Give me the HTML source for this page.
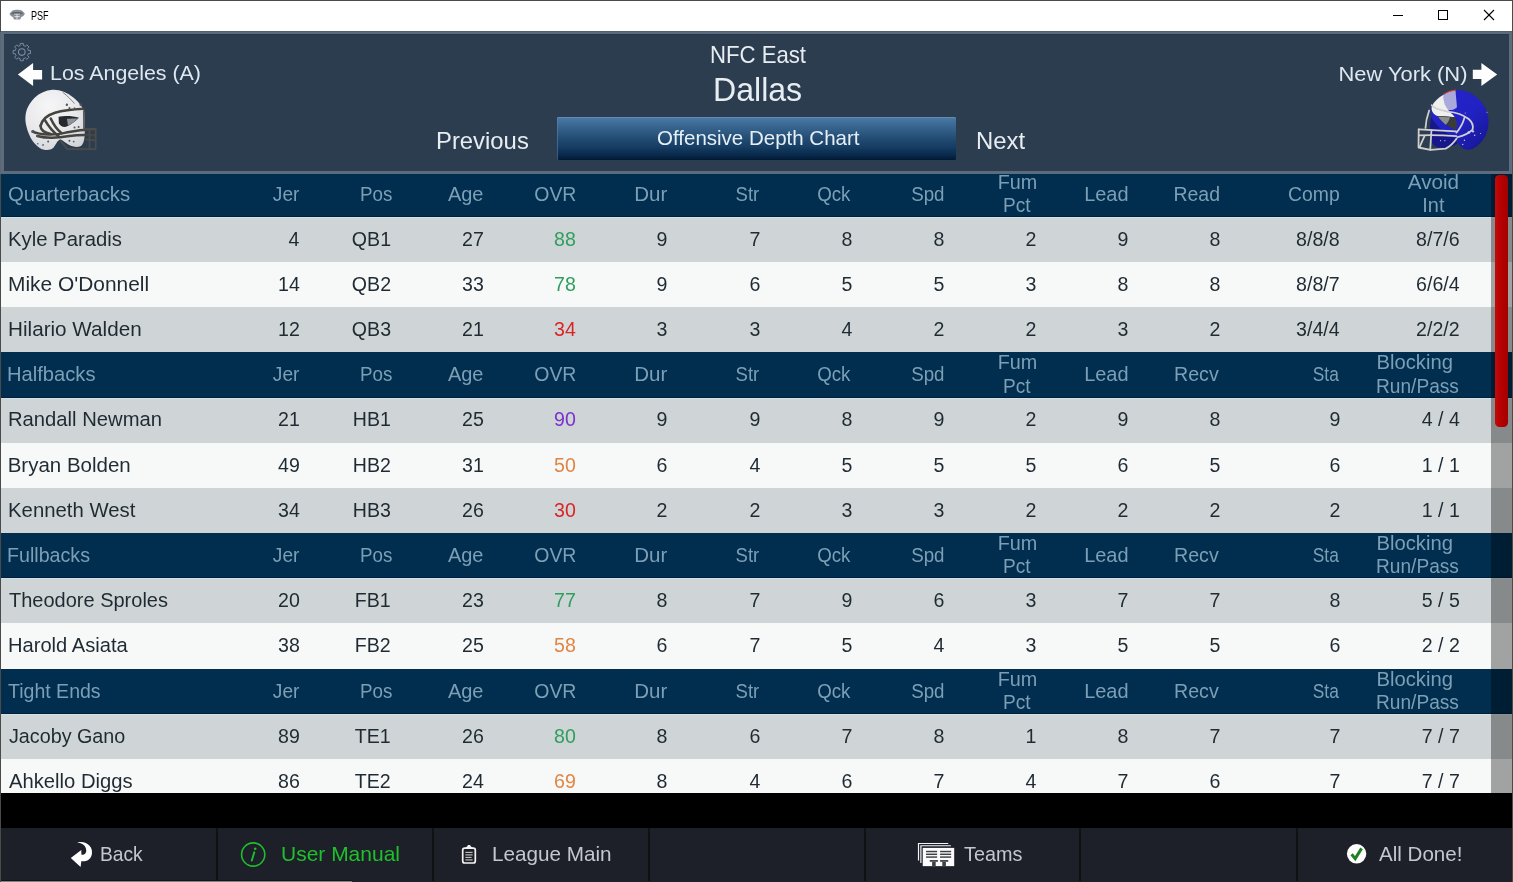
<!DOCTYPE html>
<html><head><meta charset="utf-8"><title>PSF</title>
<style>
html,body{margin:0;padding:0;}
body{width:1513px;height:882px;position:relative;overflow:hidden;background:#000;font-family:"Liberation Sans", sans-serif;}
.t{position:absolute;white-space:pre;line-height:1;font-family:"Liberation Sans", sans-serif;}
.abs{position:absolute;}
.tl{position:absolute;left:0;top:0;width:1513px;height:882px;will-change:transform;}
#titlebar{position:absolute;left:0;top:0;width:1513px;height:31px;background:#fff;}
#list{position:absolute;left:1px;top:0;width:1511px;height:793px;overflow:hidden;}
#list .inner{position:absolute;left:-1px;top:0;width:1513px;height:900px;}
.row{position:absolute;left:0;width:1513px;}
.row.hdr{background:#012e4f;}
.row.g{background:#cfd5d6;}
.row.w{background:#f7f9f9;}
#panel{position:absolute;left:1px;top:31px;width:1511px;height:143px;box-sizing:border-box;border:3px solid #5c6c7f;background:#2c3d4f;box-shadow:inset 0 1px 0 #27364a;}
#btn{position:absolute;left:557px;top:117px;width:399px;height:43px;border-radius:1.5px;box-shadow:inset 1px 0 0 rgba(90,135,175,.55), inset 0 1px 0 rgba(110,150,185,.6);background:linear-gradient(#4d7ca6 0%,#41719c 10%,#265078 45%,#163d63 70%,#072849 90%,#011733 100%);}
#track{position:absolute;left:1491px;top:174px;width:21px;height:619px;background:rgba(0,0,0,.35);}
#thumb{position:absolute;left:1494.5px;top:175px;width:13.6px;height:252px;border-radius:4.5px;background:linear-gradient(90deg,#c20a0a,#b40000 50%,#a20000);}
#bar{position:absolute;left:0;top:828px;width:1513px;height:54px;background:#1d2029;}
.div{position:absolute;top:828px;width:2px;height:54px;background:#0f1115;}
#frameL,#frameR{position:absolute;top:0;width:1px;height:882px;background:#4a4a4a;}
#frameT,#frameB{position:absolute;left:0;height:1px;width:1513px;background:#4a4a4a;}
</style></head>
<body>
<div id="list"><div class="inner">
<div class="row hdr" style="top:172px;height:45px"></div>
<div class="row g" style="top:217px;height:45px"></div>
<div class="row w" style="top:262px;height:45px"></div>
<div class="row g" style="top:307px;height:45px"></div>
<div class="row hdr" style="top:352px;height:46px"></div>
<div class="row g" style="top:398px;height:45px"></div>
<div class="row w" style="top:443px;height:45px"></div>
<div class="row g" style="top:488px;height:45px"></div>
<div class="row hdr" style="top:533px;height:45px"></div>
<div class="row g" style="top:578px;height:45px"></div>
<div class="row w" style="top:623px;height:46px"></div>
<div class="row hdr" style="top:669px;height:45px"></div>
<div class="row g" style="top:714px;height:45px"></div>
<div class="row w" style="top:759px;height:45px"></div>
<div class="abs" style="left:0;top:216px;width:1513px;height:1px;background:#00203a"></div>
<div class="abs" style="left:0;top:217px;width:1513px;height:1px;background:#cfe2ec"></div>
<div class="abs" style="left:0;top:397px;width:1513px;height:1px;background:#00203a"></div>
<div class="abs" style="left:0;top:398px;width:1513px;height:1px;background:#cfe2ec"></div>
<div class="abs" style="left:0;top:577px;width:1513px;height:1px;background:#00203a"></div>
<div class="abs" style="left:0;top:578px;width:1513px;height:1px;background:#cfe2ec"></div>
<div class="abs" style="left:0;top:713px;width:1513px;height:1px;background:#00203a"></div>
<div class="abs" style="left:0;top:714px;width:1513px;height:1px;background:#cfe2ec"></div>
<div class="tl">
<span class="t" style="top:183.54px;font-size:20.5px;color:#7c9fb6;left:8.30px;transform-origin:0 0;transform:scaleX(0.9927);">Quarterbacks</span>
<span class="t" style="top:183.54px;font-size:20.5px;color:#7c9fb6;right:1213.66px;transform-origin:100% 0;transform:scaleX(0.9354);">Jer</span>
<span class="t" style="top:183.54px;font-size:20.5px;color:#7c9fb6;right:1121.17px;transform-origin:100% 0;transform:scaleX(0.9156);">Pos</span>
<span class="t" style="top:183.54px;font-size:20.5px;color:#7c9fb6;right:1029.21px;transform-origin:100% 0;transform:scaleX(0.9758);">Age</span>
<span class="t" style="top:183.54px;font-size:20.5px;color:#7c9fb6;right:936.74px;transform-origin:100% 0;transform:scaleX(0.9491);">OVR</span>
<span class="t" style="top:183.54px;font-size:20.5px;color:#7c9fb6;right:845.67px;transform-origin:100% 0;">Dur</span>
<span class="t" style="top:183.54px;font-size:20.5px;color:#7c9fb6;right:753.56px;transform-origin:100% 0;transform:scaleX(0.9026);">Str</span>
<span class="t" style="top:183.54px;font-size:20.5px;color:#7c9fb6;right:662.09px;transform-origin:100% 0;transform:scaleX(0.9141);">Qck</span>
<span class="t" style="top:183.54px;font-size:20.5px;color:#7c9fb6;right:568.83px;transform-origin:100% 0;transform:scaleX(0.9120);">Spd</span>
<span class="t" style="top:171.54px;font-size:20.5px;color:#7c9fb6;left:996.74px;transform-origin:50% 0;transform:scaleX(0.9660);">Fum</span>
<span class="t" style="top:194.94px;font-size:20.5px;color:#7c9fb6;left:1001.78px;transform-origin:50% 0;transform:scaleX(0.9300);">Pct</span>
<span class="t" style="top:183.54px;font-size:20.5px;color:#7c9fb6;right:384.81px;transform-origin:100% 0;transform:scaleX(0.9750);">Lead</span>
<span class="t" style="top:183.54px;font-size:20.5px;color:#7c9fb6;right:292.82px;transform-origin:100% 0;transform:scaleX(0.9515);">Read</span>
<span class="t" style="top:183.54px;font-size:20.5px;color:#7c9fb6;right:173.02px;transform-origin:100% 0;transform:scaleX(0.9440);">Comp</span>
<span class="t" style="top:171.54px;font-size:20.5px;color:#7c9fb6;left:1408.45px;transform-origin:50% 0;transform:scaleX(1.0078);">Avoid</span>
<span class="t" style="top:194.94px;font-size:20.5px;color:#7c9fb6;left:1421.67px;transform-origin:50% 0;transform:scaleX(0.9730);">Int</span>
<span class="t" style="top:228.62px;font-size:20.5px;color:#1f2a32;left:7.71px;transform-origin:0 0;transform:scaleX(0.9901);">Kyle Paradis</span>
<span class="t" style="top:228.62px;font-size:20.5px;color:#1f2a32;right:1213.12px;transform-origin:100% 0;transform:scaleX(0.9550);">4</span>
<span class="t" style="top:228.62px;font-size:20.5px;color:#1f2a32;right:1122.32px;transform-origin:100% 0;transform:scaleX(0.9550);">QB1</span>
<span class="t" style="top:228.62px;font-size:20.5px;color:#1f2a32;right:1029.22px;transform-origin:100% 0;transform:scaleX(0.9550);">27</span>
<span class="t" style="top:228.62px;font-size:20.5px;color:#2f9e5e;right:937.12px;transform-origin:100% 0;transform:scaleX(0.9550);">88</span>
<span class="t" style="top:228.62px;font-size:20.5px;color:#1f2a32;right:845.12px;transform-origin:100% 0;transform:scaleX(0.9550);">9</span>
<span class="t" style="top:228.62px;font-size:20.5px;color:#1f2a32;right:753.02px;transform-origin:100% 0;transform:scaleX(0.9550);">7</span>
<span class="t" style="top:228.62px;font-size:20.5px;color:#1f2a32;right:661.02px;transform-origin:100% 0;transform:scaleX(0.9550);">8</span>
<span class="t" style="top:228.62px;font-size:20.5px;color:#1f2a32;right:568.82px;transform-origin:100% 0;transform:scaleX(0.9550);">8</span>
<span class="t" style="top:228.62px;font-size:20.5px;color:#1f2a32;right:476.82px;transform-origin:100% 0;transform:scaleX(0.9550);">2</span>
<span class="t" style="top:228.62px;font-size:20.5px;color:#1f2a32;right:384.82px;transform-origin:100% 0;transform:scaleX(0.9550);">9</span>
<span class="t" style="top:228.62px;font-size:20.5px;color:#1f2a32;right:292.82px;transform-origin:100% 0;transform:scaleX(0.9550);">8</span>
<span class="t" style="top:228.62px;font-size:20.5px;color:#1f2a32;right:173.02px;transform-origin:100% 0;transform:scaleX(0.9550);">8/8/8</span>
<span class="t" style="top:228.62px;font-size:20.5px;color:#1f2a32;right:53.32px;transform-origin:100% 0;transform:scaleX(0.9550);">8/7/6</span>
<span class="t" style="top:273.80px;font-size:20.5px;color:#1f2a32;left:7.68px;transform-origin:0 0;transform:scaleX(1.0197);">Mike O&#x27;Donnell</span>
<span class="t" style="top:273.80px;font-size:20.5px;color:#1f2a32;right:1213.12px;transform-origin:100% 0;transform:scaleX(0.9550);">14</span>
<span class="t" style="top:273.80px;font-size:20.5px;color:#1f2a32;right:1122.32px;transform-origin:100% 0;transform:scaleX(0.9550);">QB2</span>
<span class="t" style="top:273.80px;font-size:20.5px;color:#1f2a32;right:1029.22px;transform-origin:100% 0;transform:scaleX(0.9550);">33</span>
<span class="t" style="top:273.80px;font-size:20.5px;color:#2f9e5e;right:937.12px;transform-origin:100% 0;transform:scaleX(0.9550);">78</span>
<span class="t" style="top:273.80px;font-size:20.5px;color:#1f2a32;right:845.12px;transform-origin:100% 0;transform:scaleX(0.9550);">9</span>
<span class="t" style="top:273.80px;font-size:20.5px;color:#1f2a32;right:753.02px;transform-origin:100% 0;transform:scaleX(0.9550);">6</span>
<span class="t" style="top:273.80px;font-size:20.5px;color:#1f2a32;right:661.02px;transform-origin:100% 0;transform:scaleX(0.9550);">5</span>
<span class="t" style="top:273.80px;font-size:20.5px;color:#1f2a32;right:568.82px;transform-origin:100% 0;transform:scaleX(0.9550);">5</span>
<span class="t" style="top:273.80px;font-size:20.5px;color:#1f2a32;right:476.82px;transform-origin:100% 0;transform:scaleX(0.9550);">3</span>
<span class="t" style="top:273.80px;font-size:20.5px;color:#1f2a32;right:384.82px;transform-origin:100% 0;transform:scaleX(0.9550);">8</span>
<span class="t" style="top:273.80px;font-size:20.5px;color:#1f2a32;right:292.82px;transform-origin:100% 0;transform:scaleX(0.9550);">8</span>
<span class="t" style="top:273.80px;font-size:20.5px;color:#1f2a32;right:173.02px;transform-origin:100% 0;transform:scaleX(0.9550);">8/8/7</span>
<span class="t" style="top:273.80px;font-size:20.5px;color:#1f2a32;right:53.32px;transform-origin:100% 0;transform:scaleX(0.9550);">6/6/4</span>
<span class="t" style="top:318.98px;font-size:20.5px;color:#1f2a32;left:7.69px;transform-origin:0 0;transform:scaleX(1.0089);">Hilario Walden</span>
<span class="t" style="top:318.98px;font-size:20.5px;color:#1f2a32;right:1213.12px;transform-origin:100% 0;transform:scaleX(0.9550);">12</span>
<span class="t" style="top:318.98px;font-size:20.5px;color:#1f2a32;right:1122.32px;transform-origin:100% 0;transform:scaleX(0.9550);">QB3</span>
<span class="t" style="top:318.98px;font-size:20.5px;color:#1f2a32;right:1029.22px;transform-origin:100% 0;transform:scaleX(0.9550);">21</span>
<span class="t" style="top:318.98px;font-size:20.5px;color:#d92525;right:937.12px;transform-origin:100% 0;transform:scaleX(0.9550);">34</span>
<span class="t" style="top:318.98px;font-size:20.5px;color:#1f2a32;right:845.12px;transform-origin:100% 0;transform:scaleX(0.9550);">3</span>
<span class="t" style="top:318.98px;font-size:20.5px;color:#1f2a32;right:753.02px;transform-origin:100% 0;transform:scaleX(0.9550);">3</span>
<span class="t" style="top:318.98px;font-size:20.5px;color:#1f2a32;right:661.02px;transform-origin:100% 0;transform:scaleX(0.9550);">4</span>
<span class="t" style="top:318.98px;font-size:20.5px;color:#1f2a32;right:568.82px;transform-origin:100% 0;transform:scaleX(0.9550);">2</span>
<span class="t" style="top:318.98px;font-size:20.5px;color:#1f2a32;right:476.82px;transform-origin:100% 0;transform:scaleX(0.9550);">2</span>
<span class="t" style="top:318.98px;font-size:20.5px;color:#1f2a32;right:384.82px;transform-origin:100% 0;transform:scaleX(0.9550);">3</span>
<span class="t" style="top:318.98px;font-size:20.5px;color:#1f2a32;right:292.82px;transform-origin:100% 0;transform:scaleX(0.9550);">2</span>
<span class="t" style="top:318.98px;font-size:20.5px;color:#1f2a32;right:173.02px;transform-origin:100% 0;transform:scaleX(0.9550);">3/4/4</span>
<span class="t" style="top:318.98px;font-size:20.5px;color:#1f2a32;right:53.32px;transform-origin:100% 0;transform:scaleX(0.9550);">2/2/2</span>
<span class="t" style="top:364.26px;font-size:20.5px;color:#7c9fb6;left:7.32px;transform-origin:0 0;transform:scaleX(0.9836);">Halfbacks</span>
<span class="t" style="top:364.26px;font-size:20.5px;color:#7c9fb6;right:1213.66px;transform-origin:100% 0;transform:scaleX(0.9354);">Jer</span>
<span class="t" style="top:364.26px;font-size:20.5px;color:#7c9fb6;right:1121.17px;transform-origin:100% 0;transform:scaleX(0.9156);">Pos</span>
<span class="t" style="top:364.26px;font-size:20.5px;color:#7c9fb6;right:1029.21px;transform-origin:100% 0;transform:scaleX(0.9758);">Age</span>
<span class="t" style="top:364.26px;font-size:20.5px;color:#7c9fb6;right:936.74px;transform-origin:100% 0;transform:scaleX(0.9491);">OVR</span>
<span class="t" style="top:364.26px;font-size:20.5px;color:#7c9fb6;right:845.67px;transform-origin:100% 0;">Dur</span>
<span class="t" style="top:364.26px;font-size:20.5px;color:#7c9fb6;right:753.56px;transform-origin:100% 0;transform:scaleX(0.9026);">Str</span>
<span class="t" style="top:364.26px;font-size:20.5px;color:#7c9fb6;right:662.09px;transform-origin:100% 0;transform:scaleX(0.9141);">Qck</span>
<span class="t" style="top:364.26px;font-size:20.5px;color:#7c9fb6;right:568.83px;transform-origin:100% 0;transform:scaleX(0.9120);">Spd</span>
<span class="t" style="top:352.26px;font-size:20.5px;color:#7c9fb6;left:996.74px;transform-origin:50% 0;transform:scaleX(0.9660);">Fum</span>
<span class="t" style="top:375.66px;font-size:20.5px;color:#7c9fb6;left:1001.78px;transform-origin:50% 0;transform:scaleX(0.9300);">Pct</span>
<span class="t" style="top:364.26px;font-size:20.5px;color:#7c9fb6;right:384.81px;transform-origin:100% 0;transform:scaleX(0.9750);">Lead</span>
<span class="t" style="top:364.26px;font-size:20.5px;color:#7c9fb6;right:293.92px;transform-origin:100% 0;transform:scaleX(0.9579);">Recv</span>
<span class="t" style="top:364.26px;font-size:20.5px;color:#7c9fb6;right:173.91px;transform-origin:100% 0;transform:scaleX(0.8448);">Sta</span>
<span class="t" style="top:352.26px;font-size:20.5px;color:#7c9fb6;left:1375.76px;transform-origin:50% 0;transform:scaleX(0.9857);">Blocking</span>
<span class="t" style="top:375.66px;font-size:20.5px;color:#7c9fb6;left:1373.41px;transform-origin:50% 0;transform:scaleX(0.9335);">Run/Pass</span>
<span class="t" style="top:409.34px;font-size:20.5px;color:#1f2a32;left:7.71px;transform-origin:0 0;transform:scaleX(0.9864);">Randall Newman</span>
<span class="t" style="top:409.34px;font-size:20.5px;color:#1f2a32;right:1213.12px;transform-origin:100% 0;transform:scaleX(0.9550);">21</span>
<span class="t" style="top:409.34px;font-size:20.5px;color:#1f2a32;right:1122.32px;transform-origin:100% 0;transform:scaleX(0.9550);">HB1</span>
<span class="t" style="top:409.34px;font-size:20.5px;color:#1f2a32;right:1029.22px;transform-origin:100% 0;transform:scaleX(0.9550);">25</span>
<span class="t" style="top:409.34px;font-size:20.5px;color:#7a33cc;right:937.12px;transform-origin:100% 0;transform:scaleX(0.9550);">90</span>
<span class="t" style="top:409.34px;font-size:20.5px;color:#1f2a32;right:845.12px;transform-origin:100% 0;transform:scaleX(0.9550);">9</span>
<span class="t" style="top:409.34px;font-size:20.5px;color:#1f2a32;right:753.02px;transform-origin:100% 0;transform:scaleX(0.9550);">9</span>
<span class="t" style="top:409.34px;font-size:20.5px;color:#1f2a32;right:661.02px;transform-origin:100% 0;transform:scaleX(0.9550);">8</span>
<span class="t" style="top:409.34px;font-size:20.5px;color:#1f2a32;right:568.82px;transform-origin:100% 0;transform:scaleX(0.9550);">9</span>
<span class="t" style="top:409.34px;font-size:20.5px;color:#1f2a32;right:476.82px;transform-origin:100% 0;transform:scaleX(0.9550);">2</span>
<span class="t" style="top:409.34px;font-size:20.5px;color:#1f2a32;right:384.82px;transform-origin:100% 0;transform:scaleX(0.9550);">9</span>
<span class="t" style="top:409.34px;font-size:20.5px;color:#1f2a32;right:292.82px;transform-origin:100% 0;transform:scaleX(0.9550);">8</span>
<span class="t" style="top:409.34px;font-size:20.5px;color:#1f2a32;right:173.02px;transform-origin:100% 0;transform:scaleX(0.9550);">9</span>
<span class="t" style="top:409.34px;font-size:20.5px;color:#1f2a32;right:53.32px;transform-origin:100% 0;transform:scaleX(0.9550);">4 / 4</span>
<span class="t" style="top:454.52px;font-size:20.5px;color:#1f2a32;left:7.70px;transform-origin:0 0;">Bryan Bolden</span>
<span class="t" style="top:454.52px;font-size:20.5px;color:#1f2a32;right:1213.12px;transform-origin:100% 0;transform:scaleX(0.9550);">49</span>
<span class="t" style="top:454.52px;font-size:20.5px;color:#1f2a32;right:1122.32px;transform-origin:100% 0;transform:scaleX(0.9550);">HB2</span>
<span class="t" style="top:454.52px;font-size:20.5px;color:#1f2a32;right:1029.22px;transform-origin:100% 0;transform:scaleX(0.9550);">31</span>
<span class="t" style="top:454.52px;font-size:20.5px;color:#e08645;right:937.12px;transform-origin:100% 0;transform:scaleX(0.9550);">50</span>
<span class="t" style="top:454.52px;font-size:20.5px;color:#1f2a32;right:845.12px;transform-origin:100% 0;transform:scaleX(0.9550);">6</span>
<span class="t" style="top:454.52px;font-size:20.5px;color:#1f2a32;right:753.02px;transform-origin:100% 0;transform:scaleX(0.9550);">4</span>
<span class="t" style="top:454.52px;font-size:20.5px;color:#1f2a32;right:661.02px;transform-origin:100% 0;transform:scaleX(0.9550);">5</span>
<span class="t" style="top:454.52px;font-size:20.5px;color:#1f2a32;right:568.82px;transform-origin:100% 0;transform:scaleX(0.9550);">5</span>
<span class="t" style="top:454.52px;font-size:20.5px;color:#1f2a32;right:476.82px;transform-origin:100% 0;transform:scaleX(0.9550);">5</span>
<span class="t" style="top:454.52px;font-size:20.5px;color:#1f2a32;right:384.82px;transform-origin:100% 0;transform:scaleX(0.9550);">6</span>
<span class="t" style="top:454.52px;font-size:20.5px;color:#1f2a32;right:292.82px;transform-origin:100% 0;transform:scaleX(0.9550);">5</span>
<span class="t" style="top:454.52px;font-size:20.5px;color:#1f2a32;right:173.02px;transform-origin:100% 0;transform:scaleX(0.9550);">6</span>
<span class="t" style="top:454.52px;font-size:20.5px;color:#1f2a32;right:53.32px;transform-origin:100% 0;transform:scaleX(0.9550);">1 / 1</span>
<span class="t" style="top:499.70px;font-size:20.5px;color:#1f2a32;left:7.71px;transform-origin:0 0;transform:scaleX(0.9922);">Kenneth West</span>
<span class="t" style="top:499.70px;font-size:20.5px;color:#1f2a32;right:1213.12px;transform-origin:100% 0;transform:scaleX(0.9550);">34</span>
<span class="t" style="top:499.70px;font-size:20.5px;color:#1f2a32;right:1122.32px;transform-origin:100% 0;transform:scaleX(0.9550);">HB3</span>
<span class="t" style="top:499.70px;font-size:20.5px;color:#1f2a32;right:1029.22px;transform-origin:100% 0;transform:scaleX(0.9550);">26</span>
<span class="t" style="top:499.70px;font-size:20.5px;color:#d92525;right:937.12px;transform-origin:100% 0;transform:scaleX(0.9550);">30</span>
<span class="t" style="top:499.70px;font-size:20.5px;color:#1f2a32;right:845.12px;transform-origin:100% 0;transform:scaleX(0.9550);">2</span>
<span class="t" style="top:499.70px;font-size:20.5px;color:#1f2a32;right:753.02px;transform-origin:100% 0;transform:scaleX(0.9550);">2</span>
<span class="t" style="top:499.70px;font-size:20.5px;color:#1f2a32;right:661.02px;transform-origin:100% 0;transform:scaleX(0.9550);">3</span>
<span class="t" style="top:499.70px;font-size:20.5px;color:#1f2a32;right:568.82px;transform-origin:100% 0;transform:scaleX(0.9550);">3</span>
<span class="t" style="top:499.70px;font-size:20.5px;color:#1f2a32;right:476.82px;transform-origin:100% 0;transform:scaleX(0.9550);">2</span>
<span class="t" style="top:499.70px;font-size:20.5px;color:#1f2a32;right:384.82px;transform-origin:100% 0;transform:scaleX(0.9550);">2</span>
<span class="t" style="top:499.70px;font-size:20.5px;color:#1f2a32;right:292.82px;transform-origin:100% 0;transform:scaleX(0.9550);">2</span>
<span class="t" style="top:499.70px;font-size:20.5px;color:#1f2a32;right:173.02px;transform-origin:100% 0;transform:scaleX(0.9550);">2</span>
<span class="t" style="top:499.70px;font-size:20.5px;color:#1f2a32;right:53.32px;transform-origin:100% 0;transform:scaleX(0.9550);">1 / 1</span>
<span class="t" style="top:544.98px;font-size:20.5px;color:#7c9fb6;left:7.34px;transform-origin:0 0;transform:scaleX(0.9586);">Fullbacks</span>
<span class="t" style="top:544.98px;font-size:20.5px;color:#7c9fb6;right:1213.66px;transform-origin:100% 0;transform:scaleX(0.9354);">Jer</span>
<span class="t" style="top:544.98px;font-size:20.5px;color:#7c9fb6;right:1121.17px;transform-origin:100% 0;transform:scaleX(0.9156);">Pos</span>
<span class="t" style="top:544.98px;font-size:20.5px;color:#7c9fb6;right:1029.21px;transform-origin:100% 0;transform:scaleX(0.9758);">Age</span>
<span class="t" style="top:544.98px;font-size:20.5px;color:#7c9fb6;right:936.74px;transform-origin:100% 0;transform:scaleX(0.9491);">OVR</span>
<span class="t" style="top:544.98px;font-size:20.5px;color:#7c9fb6;right:845.67px;transform-origin:100% 0;">Dur</span>
<span class="t" style="top:544.98px;font-size:20.5px;color:#7c9fb6;right:753.56px;transform-origin:100% 0;transform:scaleX(0.9026);">Str</span>
<span class="t" style="top:544.98px;font-size:20.5px;color:#7c9fb6;right:662.09px;transform-origin:100% 0;transform:scaleX(0.9141);">Qck</span>
<span class="t" style="top:544.98px;font-size:20.5px;color:#7c9fb6;right:568.83px;transform-origin:100% 0;transform:scaleX(0.9120);">Spd</span>
<span class="t" style="top:532.98px;font-size:20.5px;color:#7c9fb6;left:996.74px;transform-origin:50% 0;transform:scaleX(0.9660);">Fum</span>
<span class="t" style="top:556.38px;font-size:20.5px;color:#7c9fb6;left:1001.78px;transform-origin:50% 0;transform:scaleX(0.9300);">Pct</span>
<span class="t" style="top:544.98px;font-size:20.5px;color:#7c9fb6;right:384.81px;transform-origin:100% 0;transform:scaleX(0.9750);">Lead</span>
<span class="t" style="top:544.98px;font-size:20.5px;color:#7c9fb6;right:293.92px;transform-origin:100% 0;transform:scaleX(0.9579);">Recv</span>
<span class="t" style="top:544.98px;font-size:20.5px;color:#7c9fb6;right:173.91px;transform-origin:100% 0;transform:scaleX(0.8448);">Sta</span>
<span class="t" style="top:532.98px;font-size:20.5px;color:#7c9fb6;left:1375.76px;transform-origin:50% 0;transform:scaleX(0.9857);">Blocking</span>
<span class="t" style="top:556.38px;font-size:20.5px;color:#7c9fb6;left:1373.41px;transform-origin:50% 0;transform:scaleX(0.9335);">Run/Pass</span>
<span class="t" style="top:590.06px;font-size:20.5px;color:#1f2a32;left:8.70px;transform-origin:0 0;transform:scaleX(0.9754);">Theodore Sproles</span>
<span class="t" style="top:590.06px;font-size:20.5px;color:#1f2a32;right:1213.12px;transform-origin:100% 0;transform:scaleX(0.9550);">20</span>
<span class="t" style="top:590.06px;font-size:20.5px;color:#1f2a32;right:1122.32px;transform-origin:100% 0;transform:scaleX(0.9550);">FB1</span>
<span class="t" style="top:590.06px;font-size:20.5px;color:#1f2a32;right:1029.22px;transform-origin:100% 0;transform:scaleX(0.9550);">23</span>
<span class="t" style="top:590.06px;font-size:20.5px;color:#2f9e5e;right:937.12px;transform-origin:100% 0;transform:scaleX(0.9550);">77</span>
<span class="t" style="top:590.06px;font-size:20.5px;color:#1f2a32;right:845.12px;transform-origin:100% 0;transform:scaleX(0.9550);">8</span>
<span class="t" style="top:590.06px;font-size:20.5px;color:#1f2a32;right:753.02px;transform-origin:100% 0;transform:scaleX(0.9550);">7</span>
<span class="t" style="top:590.06px;font-size:20.5px;color:#1f2a32;right:661.02px;transform-origin:100% 0;transform:scaleX(0.9550);">9</span>
<span class="t" style="top:590.06px;font-size:20.5px;color:#1f2a32;right:568.82px;transform-origin:100% 0;transform:scaleX(0.9550);">6</span>
<span class="t" style="top:590.06px;font-size:20.5px;color:#1f2a32;right:476.82px;transform-origin:100% 0;transform:scaleX(0.9550);">3</span>
<span class="t" style="top:590.06px;font-size:20.5px;color:#1f2a32;right:384.82px;transform-origin:100% 0;transform:scaleX(0.9550);">7</span>
<span class="t" style="top:590.06px;font-size:20.5px;color:#1f2a32;right:292.82px;transform-origin:100% 0;transform:scaleX(0.9550);">7</span>
<span class="t" style="top:590.06px;font-size:20.5px;color:#1f2a32;right:173.02px;transform-origin:100% 0;transform:scaleX(0.9550);">8</span>
<span class="t" style="top:590.06px;font-size:20.5px;color:#1f2a32;right:53.32px;transform-origin:100% 0;transform:scaleX(0.9550);">5 / 5</span>
<span class="t" style="top:635.24px;font-size:20.5px;color:#1f2a32;left:7.72px;transform-origin:0 0;transform:scaleX(0.9816);">Harold Asiata</span>
<span class="t" style="top:635.24px;font-size:20.5px;color:#1f2a32;right:1213.12px;transform-origin:100% 0;transform:scaleX(0.9550);">38</span>
<span class="t" style="top:635.24px;font-size:20.5px;color:#1f2a32;right:1122.32px;transform-origin:100% 0;transform:scaleX(0.9550);">FB2</span>
<span class="t" style="top:635.24px;font-size:20.5px;color:#1f2a32;right:1029.22px;transform-origin:100% 0;transform:scaleX(0.9550);">25</span>
<span class="t" style="top:635.24px;font-size:20.5px;color:#e08645;right:937.12px;transform-origin:100% 0;transform:scaleX(0.9550);">58</span>
<span class="t" style="top:635.24px;font-size:20.5px;color:#1f2a32;right:845.12px;transform-origin:100% 0;transform:scaleX(0.9550);">6</span>
<span class="t" style="top:635.24px;font-size:20.5px;color:#1f2a32;right:753.02px;transform-origin:100% 0;transform:scaleX(0.9550);">7</span>
<span class="t" style="top:635.24px;font-size:20.5px;color:#1f2a32;right:661.02px;transform-origin:100% 0;transform:scaleX(0.9550);">5</span>
<span class="t" style="top:635.24px;font-size:20.5px;color:#1f2a32;right:568.82px;transform-origin:100% 0;transform:scaleX(0.9550);">4</span>
<span class="t" style="top:635.24px;font-size:20.5px;color:#1f2a32;right:476.82px;transform-origin:100% 0;transform:scaleX(0.9550);">3</span>
<span class="t" style="top:635.24px;font-size:20.5px;color:#1f2a32;right:384.82px;transform-origin:100% 0;transform:scaleX(0.9550);">5</span>
<span class="t" style="top:635.24px;font-size:20.5px;color:#1f2a32;right:292.82px;transform-origin:100% 0;transform:scaleX(0.9550);">5</span>
<span class="t" style="top:635.24px;font-size:20.5px;color:#1f2a32;right:173.02px;transform-origin:100% 0;transform:scaleX(0.9550);">6</span>
<span class="t" style="top:635.24px;font-size:20.5px;color:#1f2a32;right:53.32px;transform-origin:100% 0;transform:scaleX(0.9550);">2 / 2</span>
<span class="t" style="top:680.52px;font-size:20.5px;color:#7c9fb6;left:8.30px;transform-origin:0 0;transform:scaleX(0.9527);">Tight Ends</span>
<span class="t" style="top:680.52px;font-size:20.5px;color:#7c9fb6;right:1213.66px;transform-origin:100% 0;transform:scaleX(0.9354);">Jer</span>
<span class="t" style="top:680.52px;font-size:20.5px;color:#7c9fb6;right:1121.17px;transform-origin:100% 0;transform:scaleX(0.9156);">Pos</span>
<span class="t" style="top:680.52px;font-size:20.5px;color:#7c9fb6;right:1029.21px;transform-origin:100% 0;transform:scaleX(0.9758);">Age</span>
<span class="t" style="top:680.52px;font-size:20.5px;color:#7c9fb6;right:936.74px;transform-origin:100% 0;transform:scaleX(0.9491);">OVR</span>
<span class="t" style="top:680.52px;font-size:20.5px;color:#7c9fb6;right:845.67px;transform-origin:100% 0;">Dur</span>
<span class="t" style="top:680.52px;font-size:20.5px;color:#7c9fb6;right:753.56px;transform-origin:100% 0;transform:scaleX(0.9026);">Str</span>
<span class="t" style="top:680.52px;font-size:20.5px;color:#7c9fb6;right:662.09px;transform-origin:100% 0;transform:scaleX(0.9141);">Qck</span>
<span class="t" style="top:680.52px;font-size:20.5px;color:#7c9fb6;right:568.83px;transform-origin:100% 0;transform:scaleX(0.9120);">Spd</span>
<span class="t" style="top:668.52px;font-size:20.5px;color:#7c9fb6;left:996.74px;transform-origin:50% 0;transform:scaleX(0.9660);">Fum</span>
<span class="t" style="top:691.92px;font-size:20.5px;color:#7c9fb6;left:1001.78px;transform-origin:50% 0;transform:scaleX(0.9300);">Pct</span>
<span class="t" style="top:680.52px;font-size:20.5px;color:#7c9fb6;right:384.81px;transform-origin:100% 0;transform:scaleX(0.9750);">Lead</span>
<span class="t" style="top:680.52px;font-size:20.5px;color:#7c9fb6;right:293.92px;transform-origin:100% 0;transform:scaleX(0.9579);">Recv</span>
<span class="t" style="top:680.52px;font-size:20.5px;color:#7c9fb6;right:173.91px;transform-origin:100% 0;transform:scaleX(0.8448);">Sta</span>
<span class="t" style="top:668.52px;font-size:20.5px;color:#7c9fb6;left:1375.76px;transform-origin:50% 0;transform:scaleX(0.9857);">Blocking</span>
<span class="t" style="top:691.92px;font-size:20.5px;color:#7c9fb6;left:1373.41px;transform-origin:50% 0;transform:scaleX(0.9335);">Run/Pass</span>
<span class="t" style="top:725.60px;font-size:20.5px;color:#1f2a32;left:8.70px;transform-origin:0 0;transform:scaleX(0.9627);">Jacoby Gano</span>
<span class="t" style="top:725.60px;font-size:20.5px;color:#1f2a32;right:1213.12px;transform-origin:100% 0;transform:scaleX(0.9550);">89</span>
<span class="t" style="top:725.60px;font-size:20.5px;color:#1f2a32;right:1122.32px;transform-origin:100% 0;transform:scaleX(0.9550);">TE1</span>
<span class="t" style="top:725.60px;font-size:20.5px;color:#1f2a32;right:1029.22px;transform-origin:100% 0;transform:scaleX(0.9550);">26</span>
<span class="t" style="top:725.60px;font-size:20.5px;color:#2f9e5e;right:937.12px;transform-origin:100% 0;transform:scaleX(0.9550);">80</span>
<span class="t" style="top:725.60px;font-size:20.5px;color:#1f2a32;right:845.12px;transform-origin:100% 0;transform:scaleX(0.9550);">8</span>
<span class="t" style="top:725.60px;font-size:20.5px;color:#1f2a32;right:753.02px;transform-origin:100% 0;transform:scaleX(0.9550);">6</span>
<span class="t" style="top:725.60px;font-size:20.5px;color:#1f2a32;right:661.02px;transform-origin:100% 0;transform:scaleX(0.9550);">7</span>
<span class="t" style="top:725.60px;font-size:20.5px;color:#1f2a32;right:568.82px;transform-origin:100% 0;transform:scaleX(0.9550);">8</span>
<span class="t" style="top:725.60px;font-size:20.5px;color:#1f2a32;right:476.82px;transform-origin:100% 0;transform:scaleX(0.9550);">1</span>
<span class="t" style="top:725.60px;font-size:20.5px;color:#1f2a32;right:384.82px;transform-origin:100% 0;transform:scaleX(0.9550);">8</span>
<span class="t" style="top:725.60px;font-size:20.5px;color:#1f2a32;right:292.82px;transform-origin:100% 0;transform:scaleX(0.9550);">7</span>
<span class="t" style="top:725.60px;font-size:20.5px;color:#1f2a32;right:173.02px;transform-origin:100% 0;transform:scaleX(0.9550);">7</span>
<span class="t" style="top:725.60px;font-size:20.5px;color:#1f2a32;right:53.32px;transform-origin:100% 0;transform:scaleX(0.9550);">7 / 7</span>
<span class="t" style="top:770.78px;font-size:20.5px;color:#1f2a32;left:8.70px;transform-origin:0 0;transform:scaleX(0.9865);">Ahkello Diggs</span>
<span class="t" style="top:770.78px;font-size:20.5px;color:#1f2a32;right:1213.12px;transform-origin:100% 0;transform:scaleX(0.9550);">86</span>
<span class="t" style="top:770.78px;font-size:20.5px;color:#1f2a32;right:1122.32px;transform-origin:100% 0;transform:scaleX(0.9550);">TE2</span>
<span class="t" style="top:770.78px;font-size:20.5px;color:#1f2a32;right:1029.22px;transform-origin:100% 0;transform:scaleX(0.9550);">24</span>
<span class="t" style="top:770.78px;font-size:20.5px;color:#e08645;right:937.12px;transform-origin:100% 0;transform:scaleX(0.9550);">69</span>
<span class="t" style="top:770.78px;font-size:20.5px;color:#1f2a32;right:845.12px;transform-origin:100% 0;transform:scaleX(0.9550);">8</span>
<span class="t" style="top:770.78px;font-size:20.5px;color:#1f2a32;right:753.02px;transform-origin:100% 0;transform:scaleX(0.9550);">4</span>
<span class="t" style="top:770.78px;font-size:20.5px;color:#1f2a32;right:661.02px;transform-origin:100% 0;transform:scaleX(0.9550);">6</span>
<span class="t" style="top:770.78px;font-size:20.5px;color:#1f2a32;right:568.82px;transform-origin:100% 0;transform:scaleX(0.9550);">7</span>
<span class="t" style="top:770.78px;font-size:20.5px;color:#1f2a32;right:476.82px;transform-origin:100% 0;transform:scaleX(0.9550);">4</span>
<span class="t" style="top:770.78px;font-size:20.5px;color:#1f2a32;right:384.82px;transform-origin:100% 0;transform:scaleX(0.9550);">7</span>
<span class="t" style="top:770.78px;font-size:20.5px;color:#1f2a32;right:292.82px;transform-origin:100% 0;transform:scaleX(0.9550);">6</span>
<span class="t" style="top:770.78px;font-size:20.5px;color:#1f2a32;right:173.02px;transform-origin:100% 0;transform:scaleX(0.9550);">7</span>
<span class="t" style="top:770.78px;font-size:20.5px;color:#1f2a32;right:53.32px;transform-origin:100% 0;transform:scaleX(0.9550);">7 / 7</span>
</div>
</div></div>
<div id="track"></div><div id="thumb"></div>
<div id="titlebar"></div>
<div id="panel"></div>
<div class="abs" style="left:1px;top:31px;width:1511px;height:1px;background:#56606b"></div>
<div id="btn"></div>
<div id="bar"></div>
<div class="div" style="left:216px"></div><div class="div" style="left:431.6px"></div><div class="div" style="left:647.6px"></div>
<div class="div" style="left:863.6px"></div><div class="div" style="left:1079.4px"></div><div class="div" style="left:1296px"></div>
<div class="abs" style="left:0;top:881px;width:1513px;height:1px;background:#1f2327"></div>
<div class="abs" style="left:0;top:880px;width:352px;height:1px;background:#131419"></div>
<div class="abs" style="left:0;top:881px;width:352px;height:1px;background:#828285"></div>
<div class="tl">
<span class="t" style="top:9.64px;font-size:12px;color:#000;left:30.60px;transform-origin:0 0;transform:scaleX(0.7563);">PSF</span>
<span class="t" style="top:63.41px;font-size:20.3px;color:#dfe8f0;left:50.35px;transform-origin:0 0;transform:scaleX(1.0544);">Los Angeles (A)</span>
<span class="t" style="top:63.71px;font-size:20.3px;color:#dfe8f0;right:45.79px;transform-origin:100% 0;transform:scaleX(1.0798);">New York (N)</span>
<span class="t" style="top:44.02px;font-size:23.6px;color:#e8edf2;left:709.86px;transform-origin:0 0;transform:scaleX(0.9390);">NFC East</span>
<span class="t" style="top:73.11px;font-size:33.3px;color:#e8edf2;left:713.37px;transform-origin:0 0;transform:scaleX(0.9635);">Dallas</span>
<span class="t" style="top:130.02px;font-size:23.6px;color:#e8edf2;left:436.49px;transform-origin:0 0;transform:scaleX(1.0111);">Previous</span>
<span class="t" style="top:130.02px;font-size:23.6px;color:#e8edf2;left:976.09px;transform-origin:0 0;transform:scaleX(1.0113);">Next</span>
<span class="t" style="top:127.76px;font-size:20.6px;color:#e6eef6;left:656.80px;transform-origin:0 0;transform:scaleX(0.9958);">Offensive Depth Chart</span>
<span class="t" style="top:843.61px;font-size:20.3px;color:#c3c8cf;left:100.35px;transform-origin:0 0;transform:scaleX(0.9478);">Back</span>
<span class="t" style="top:843.71px;font-size:20.3px;color:#1fc12b;left:281.17px;transform-origin:0 0;transform:scaleX(1.0347);">User Manual</span>
<span class="t" style="top:843.61px;font-size:20.3px;color:#c3c8cf;left:492.48px;transform-origin:0 0;transform:scaleX(1.0201);">League Main</span>
<span class="t" style="top:843.61px;font-size:20.3px;color:#c3c8cf;left:964.10px;transform-origin:0 0;transform:scaleX(0.9766);">Teams</span>
<span class="t" style="top:843.61px;font-size:20.3px;color:#c3c8cf;left:1378.90px;transform-origin:0 0;transform:scaleX(1.0141);">All Done!</span>
</div>
<svg class="abs" style="left:1380px;top:0" width="133" height="31" viewBox="1380 0 133 31" shape-rendering="crispEdges">
<rect x="1393" y="15" width="10" height="1" fill="#000"/>
<rect x="1438.5" y="10.5" width="9" height="9" fill="none" stroke="#000" stroke-width="1"/>
<g shape-rendering="geometricPrecision" stroke="#000" stroke-width="1.1"><line x1="1484" y1="10" x2="1494" y2="20"/><line x1="1494" y1="10" x2="1484" y2="20"/></g>
</svg>
<svg class="abs" style="left:8px;top:8px" width="19" height="14" viewBox="8 8 19 14">
<path d="M9.5 13.5 L12.5 10.6 C15 9.4 19.5 9.4 22 10.6 L24.8 13.5 C24.5 15.5 23 16.6 21.3 17 L20.2 19.6 L14 19.6 L13 17 C11.2 16.6 9.8 15.5 9.5 13.5 Z" fill="#8a9098"/>
<path d="M11.2 13.3 C13 11.6 21 11.6 23 13.3 C21 15.8 13 15.8 11.2 13.3Z" fill="#5a616b"/>
<path d="M13.8 14.2 h6.5 M14.5 16.6 h5.2 M17 14.2 v5" stroke="#e9ecef" stroke-width="0.9" fill="none"/>
</svg>
<svg class="abs" style="left:10px;top:40px" width="24" height="24" viewBox="10 40 24 24">
<path d="M30.47 50.59 L30.47 53.61 L28.41 53.69 L27.60 55.65 L29.00 57.16 L26.86 59.30 L25.35 57.90 L23.39 58.71 L23.31 60.77 L20.29 60.77 L20.21 58.71 L18.25 57.90 L16.74 59.30 L14.60 57.16 L16.00 55.65 L15.19 53.69 L13.13 53.61 L13.13 50.59 L15.19 50.51 L16.00 48.55 L14.60 47.04 L16.74 44.90 L18.25 46.30 L20.21 45.49 L20.29 43.43 L23.31 43.43 L23.39 45.49 L25.35 46.30 L26.86 44.90 L29.00 47.04 L27.60 48.55 L28.41 50.51Z" fill="none" stroke="#8194a8" stroke-width="1.0" stroke-linejoin="round" opacity="0.9"/>
<circle cx="21.8" cy="52.1" r="3.3" fill="none" stroke="#7c8fa3" stroke-width="1.05"/>
</svg>
<svg class="abs" style="left:14px;top:60px" width="32" height="30" viewBox="14 60 32 30">
<path d="M17.9 74.6 L33.1 63.1 L33.1 69.9 L42.1 69.9 L42.1 79.4 L33.1 79.4 L33.1 86.1 Z" fill="#fff"/></svg>
<svg class="abs" style="left:1470px;top:60px" width="32" height="30" viewBox="1470 60 32 30">
<path d="M1497.2 74.5 L1481.4 62.9 L1481.4 69.7 L1472.8 69.7 L1472.8 79.1 L1481.4 79.1 L1481.4 86.1 Z" fill="#fff"/></svg>
<svg class="abs" style="left:15px;top:85px" width="90" height="75" viewBox="0 0 1058 882">
<defs><radialGradient id="hw" cx="40%" cy="28%" r="80%"><stop offset="0" stop-color="#f6f6f8"/><stop offset="0.55" stop-color="#e9e9ec"/><stop offset="1" stop-color="#d2d4da"/></radialGradient></defs>
<path d="M440 56 C520 50 610 84 690 150 C760 210 805 270 818 330 C826 420 824 520 818 600 C814 660 800 712 760 724 C700 738 640 712 600 682 C570 660 548 640 530 640 C500 648 480 700 452 738 C410 776 340 770 290 740 C210 690 150 580 126 450 C110 340 140 240 230 150 C290 95 360 62 440 56 Z" fill="url(#hw)"/>
<path d="M512 372 C590 360 690 366 752 384 C710 430 650 470 600 492 C560 498 530 480 516 450 Z" fill="#26282b"/>
<path d="M610 398 C660 394 710 392 742 390 C705 428 664 458 622 476 Z" fill="#8e949b"/>
<g fill="none" stroke="#45443f" stroke-width="30" stroke-linecap="round" stroke-linejoin="round">
<path d="M300 480 C318 410 372 356 470 326 C580 296 700 286 806 280"/>
<path d="M300 480 C300 520 330 560 420 576"/>
<path d="M205 548 C300 590 470 592 600 560 C700 538 800 524 940 520"/>
<path d="M262 600 C400 640 520 622 640 600 C740 584 840 584 940 592"/>
<path d="M350 410 C390 480 440 545 510 600"/>
<path d="M420 395 C450 460 485 520 545 565"/>
</g>
<g fill="none" stroke="#4d4e4c" stroke-width="22" stroke-linejoin="round" opacity="0.9">
<path d="M810 300 L812 520 M812 518 L948 518 L948 754 L612 752 L530 648"/>
<path d="M876 518 L876 752"/>
<path d="M812 640 L948 650"/>
</g>
<g fill="#55585a"><circle cx="214" cy="545" r="15"/><circle cx="262" cy="600" r="13"/><circle cx="390" cy="665" r="12"/><circle cx="330" cy="705" r="10"/><circle cx="268" cy="690" r="9"/><circle cx="640" cy="655" r="12"/><circle cx="690" cy="665" r="10"/><circle cx="700" cy="500" r="12"/><circle cx="748" cy="495" r="12"/><circle cx="610" cy="232" r="14"/><circle cx="772" cy="232" r="14"/><circle cx="640" cy="272" r="12"/><circle cx="700" cy="272" r="10"/></g>
<path d="M560 84 C620 130 665 180 700 218" fill="none" stroke="#6f7172" stroke-width="10"/>
</svg>
<svg class="abs" style="left:1410px;top:85px" width="90" height="75" viewBox="0 0 1058 882">
<defs><linearGradient id="hb" x1="0" y1="0" x2="1" y2="1"><stop offset="0" stop-color="#2424c8"/><stop offset="0.55" stop-color="#2222c4"/><stop offset="1" stop-color="#14148c"/></linearGradient></defs>
<path d="M590 56 C700 70 800 140 870 240 C920 320 935 420 915 520 C890 620 830 700 740 750 C680 775 620 760 580 710 C560 680 548 650 540 625 C500 680 430 735 340 735 C290 730 250 690 240 600 C232 520 240 430 250 380 C235 320 250 260 290 210 C350 130 450 60 590 56 Z" fill="url(#hb)"/>
<path d="M250 380 C300 470 380 540 470 585 C520 610 548 640 556 690 C500 730 420 742 340 735 C280 725 245 680 240 600 C232 520 240 440 250 380Z" fill="#17178a"/>
<path d="M400 112 C440 84 490 68 535 66 C540 130 548 200 552 262 C520 296 470 300 430 290 C400 250 385 180 400 112Z" fill="#a9a9dc"/>
<path d="M256 250 C280 200 330 150 398 112 C392 160 398 200 410 232 C425 262 445 292 470 320 C500 345 520 362 525 378 C460 372 380 368 320 366 C270 340 245 300 256 250Z" fill="#efefee"/>
<path d="M322 368 C390 368 470 374 528 380 C555 420 560 480 540 528 C480 510 420 470 380 430Z" fill="#3a3c3a"/>
<path d="M330 372 C380 372 430 376 470 380 C460 420 440 450 420 468 C390 440 355 405 330 372Z" fill="#8b8d88"/>
<path d="M395 108 C440 80 490 64 540 60" fill="none" stroke="#e0402a" stroke-width="12"/>
<g fill="none" stroke="#d0d0cf" stroke-width="21" stroke-linecap="round" stroke-linejoin="round">
<path d="M102 522 L540 545"/>
<path d="M102 522 L100 735 L240 762 L420 748 C470 720 520 670 548 628"/>
<path d="M108 592 C250 585 400 590 545 600"/>
<path d="M252 530 L238 760"/>
<path d="M170 600 L112 730"/>
<path d="M225 300 C200 370 185 440 182 505"/>
<path d="M445 312 C540 320 620 345 690 400 C735 440 745 490 735 525 C690 570 620 600 560 612"/>
<path d="M640 385 C625 440 590 510 545 560"/>
<path d="M255 238 C300 290 380 300 440 312"/>
</g>
<g fill="#c8c8e8"><circle cx="690" cy="560" r="16"/><circle cx="740" cy="545" r="14"/><circle cx="760" cy="590" r="9"/><circle cx="640" cy="650" r="8"/><circle cx="620" cy="700" r="8"/><circle cx="830" cy="570" r="6"/><circle cx="650" cy="330" r="6"/><circle cx="905" cy="320" r="6"/><circle cx="360" cy="655" r="7"/><circle cx="410" cy="655" r="7"/></g>
</svg>
<svg class="abs" style="left:60px;top:832px" width="100" height="45" viewBox="0 0 1513 681">
<path d="M258 160 C400 125 505 225 482 335 C465 425 390 452 322 442 L312 528 L163 395 L322 272 L324 345 C372 350 402 320 396 268 C390 210 340 168 258 160 Z" fill="#fff"/></svg>
<svg class="abs" style="left:238px;top:840px" width="30" height="30" viewBox="238 840 30 30">
<circle cx="253.2" cy="854.5" r="11.6" fill="none" stroke="#1fbf2b" stroke-width="1.6"/>
<circle cx="255.2" cy="848.7" r="1.3" fill="#1fbf2b"/>
<path d="M254.3 852.2 L251.8 860.6" stroke="#1fbf2b" stroke-width="1.9" stroke-linecap="round" fill="none"/>
</svg>
<svg class="abs" style="left:458px;top:842px" width="22" height="24" viewBox="458 842 22 24">
<rect x="462.7" y="848.2" width="12.6" height="14.8" rx="2" fill="none" stroke="#f2f2f2" stroke-width="1.7"/>
<path d="M465.6 849 L465.6 847.3 C466.5 846.9 467.2 846.4 467.6 845.4 C468.4 844.8 469.6 844.8 470.4 845.4 C470.8 846.4 471.5 846.9 472.4 847.3 L472.4 849 Z" fill="#f2f2f2"/>
<g stroke="#c9c9c9" stroke-width="1.1"><line x1="465.4" y1="852.4" x2="472.6" y2="852.4"/><line x1="465.4" y1="854.9" x2="472.6" y2="854.9"/><line x1="465.4" y1="857.4" x2="471.6" y2="857.4"/><line x1="465.4" y1="859.9" x2="472.6" y2="859.9"/></g>
</svg>
<svg class="abs" style="left:900px;top:832px" width="200" height="45" viewBox="0 0 1513 340">
<g fill="none" stroke="#f4f4f4" stroke-width="9"><path d="M140 215 L140 87 L365 87"/><path d="M158 235 L158 104 L385 104"/></g>
<rect x="172" y="120" width="238" height="138" fill="#fbfbfb"/>
<g fill="#3c3f46">
<rect x="197" y="142" width="84" height="11"/><rect x="197" y="163" width="84" height="11"/><rect x="197" y="184" width="84" height="11"/>
<rect x="303" y="142" width="84" height="11"/><rect x="303" y="163" width="84" height="11"/><rect x="303" y="184" width="84" height="11"/>
<rect x="225" y="212" width="62" height="13"/><rect x="243" y="225" width="27" height="33"/>
<rect x="303" y="212" width="62" height="13"/><rect x="320" y="225" width="27" height="33"/>
</g></svg>
<svg class="abs" style="left:1344px;top:841px" width="26" height="26" viewBox="1344 841 26 26">
<circle cx="1356.6" cy="853.8" r="9.7" fill="#fdfdfd"/>
<path d="M1351.6 854.2 L1355.2 858.6 L1361.6 848.4" fill="none" stroke="#1f7f22" stroke-width="3" stroke-linejoin="miter"/>
</svg>
<div id="frameL" style="left:0"></div><div class="abs" style="left:0;top:32px;width:1px;height:142px;background:#5c6772"></div><div id="frameR" style="left:1512px"></div>
<div id="frameT" style="top:0"></div>
</body></html>
